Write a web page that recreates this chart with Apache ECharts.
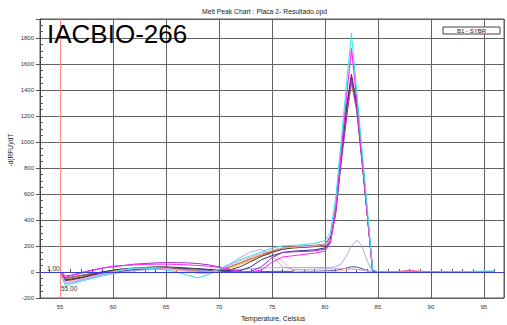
<!DOCTYPE html>
<html>
<head>
<meta charset="utf-8">
<script src="https://cdn.jsdelivr.net/npm/echarts@6.0.0/dist/echarts.min.js"></script>
<style>
html, body { margin: 0; padding: 0; background: #fff; }
#chart { width: 507px; height: 325px; }
</style>
</head>
<body>
<div id="chart"></div>
<script>
// temperatures (Celsius) of the sampled points
const temps = [55, 55.5, 56, 57, 58, 59, 60, 61, 62, 63,
  64, 65, 66, 67, 68, 69, 70, 71, 72, 73,
  74, 75, 76, 77, 78, 79, 80,
  80.5, 81, 81.5, 82, 82.5, 83, 83.5, 84, 84.5, 85,
  86, 88, 90, 92, 94, 96];

// -d(RFU)/dT per well
const wellSlate = [0, -45, -40, -25, -10, 0, 8, 15, 20, 22,
  25, 25, 22, 20, 15, 10, 5, 3, 0, 0,
  2, 5, 5, 5, 5, 5, 8,
  10, 12, 20, 30, 40, 38, 25, 10, 0, 0,
  0, 0, 0, 0, 0, 0];
const wellLightOrange = [0, -60, -55, -40, -25, -10, 0, 10, 15, 20,
  22, 20, 15, 10, 5, 5, 10, 35, 70, 110,
  140, 150, 80, 5, 0, 0, 0,
  2, 5, 8, 12, 18, 20, 15, 5, 0, 0,
  0, 0, 0, 0, 0, 0];
const wellLilac = [0, -85, -80, -60, -40, -20, -5, 5, 15, 20,
  25, 25, 20, 10, 0, 0, 20, 60, 110, 155,
  175, 120, 40, 20, 20, 22, 25,
  25, 25, 25, 25, 25, 20, 15, 10, 0, 0,
  0, 0, 0, 0, 0, 0];
const wellLavender = [0, -90, -85, -65, -45, -30, -15, 0, 10, 15,
  20, 22, 20, 18, 15, 12, 10, 15, 20, 25,
  30, 32, 33, 34, 35, 35, 35,
  36, 40, 60, 120, 200, 245, 200, 80, 5, 0,
  0, 0, 0, 2, 3, 4];
const wellBrown = [5, -50, -45, -30, -15, 0, 10, 20, 25, 28,
  30, 30, 25, 15, 5, 0, 15, 40, 70, 100,
  130, 160, 185, 195, 200, 205, 215,
  270, 480, 860, 1200, 1450, 1240, 840, 430, 10, 0,
  0, 0, 0, 0, 0, 0];
const wellOrange = [0, -70, -65, -50, -30, -10, 5, 15, 25, 30,
  30, 25, 15, 5, -10, -15, 5, 30, 60, 90,
  120, 150, 175, 185, 190, 195, 205,
  260, 470, 850, 1200, 1470, 1260, 860, 440, 10, 0,
  0, 12, 0, 0, 0, 0];
const wellNavy = [0, -65, -60, -45, -25, -10, 0, 10, 20, 25,
  28, 30, 30, 28, 25, 20, 15, 10, 10, 40,
  95, 125, 150, 160, 165, 170, 185,
  240, 450, 840, 1230, 1500, 1280, 870, 440, 10, 0,
  0, 0, 0, 0, 0, 0];
const wellGray = [0, -60, -55, -40, -20, 0, 15, 25, 30, 35,
  40, 40, 35, 30, 25, 15, 10, 15, 40, 80,
  120, 150, 175, 185, 190, 195, 210,
  270, 500, 900, 1250, 1520, 1300, 880, 450, 10, 0,
  0, 0, 0, 0, 0, 0];
const wellViolet = [5, -30, -25, -5, 15, 30, 40, 50, 60, 65,
  70, 72, 72, 70, 65, 55, 40, 20, 0, 5,
  40, 110, 150, 155, 158, 162, 175,
  230, 440, 820, 1150, 1480, 1250, 850, 430, 10, 0,
  0, 0, 0, 0, 0, 0];
const wellPink = [0, -80, -75, -55, -35, -15, 0, 15, 25, 30,
  30, 28, 20, 10, 0, 0, 20, 50, 85, 115,
  145, 170, 185, 190, 195, 200, 215,
  280, 520, 950, 1350, 1700, 1350, 900, 460, 15, 0,
  0, 0, 0, 0, 0, 0];
const wellMagenta = [0, -40, -30, -10, 10, 30, 45, 50, 55, 58,
  60, 60, 58, 55, 50, 45, 35, 20, 5, 0,
  15, 75, 115, 125, 135, 145, 160,
  220, 460, 880, 1310, 1720, 1330, 880, 450, 15, 0,
  0, 8, 0, 0, 0, 0];
const wellCyan = [-20, -105, -95, -70, -50, -25, 0, 20, 30, 30,
  25, 15, 0, -25, -45, -20, 20, 60, 95, 125,
  155, 185, 200, 205, 210, 220, 240,
  300, 560, 980, 1420, 1836, 1390, 940, 490, 20, 0,
  2, 0, 0, 2, 5, 8];

const wells = [wellSlate, wellLightOrange, wellLilac, wellLavender, wellBrown, wellOrange,
  wellNavy, wellGray, wellViolet, wellPink, wellMagenta, wellCyan];
const wellColors = ['#555577', '#ffc27a', '#b9a6f2', '#a8a8ee', '#b0662a', '#ffa24a',
  '#2b2b8c', '#3c3c3c', '#9a32cd', '#ff99ee', '#ff22ff', '#33e6e6'];

const xTicks = [55, 60, 65, 70, 75, 80, 85, 90, 95];
const yTicks = [-200, 0, 200, 400, 600, 800, 1000, 1200, 1400, 1600, 1800];
const meltStart = 55;
const threshold = 1;

const FONT = '"Liberation Sans", Arial, sans-serif';
const chart = echarts.init(document.getElementById('chart'), null, { renderer: 'svg' });

const series = wells.map((vals, k) => ({
  type: 'line',
  data: temps.map((t, i) => [t, vals[i]]),
  showSymbol: false,
  lineStyle: { width: 1, color: wellColors[k] },
  itemStyle: { color: wellColors[k] },
  z: 3,
  silent: true
}));
series.push({
  type: 'line',
  data: [],
  z: 4,
  silent: true,
  markLine: {
    silent: true,
    symbol: ['none', 'none'],
    label: { show: false },
    animation: false,
    data: [
      { xAxis: meltStart, lineStyle: { color: '#ff8a80', width: 1, type: 'solid' } },
      { yAxis: threshold, lineStyle: { color: '#3a3ad8', width: 1, type: 'solid' } }
    ]
  }
});

const xFmt = v => xTicks.indexOf(Math.round(v * 1000) / 1000) >= 0 ? String(v) : '';
const yFmt = v => yTicks.indexOf(Math.round(v)) >= 0 && Math.abs(v - Math.round(v)) < 1e-6 ? String(Math.round(v)) : '';

const option = {
  animation: false,
  grid: { left: 40, right: 0, top: 19, bottom: 27, show: true, borderColor: '#555', borderWidth: 1, backgroundColor: '#fff' },
  xAxis: [{
    type: 'value', min: 53.1, max: 96.9, splitNumber: 9,
    axisLine: { show: true, lineStyle: { color: '#444' } },
    axisTick: { show: true, length: 4, lineStyle: { color: '#555' } },
    axisLabel: { fontSize: 6, color: '#333', fontFamily: FONT, margin: 6, formatter: xFmt },
    splitLine: { show: true, lineStyle: { color: '#626262', width: 1 } }
  }, {
    type: 'value', min: 53.1, max: 96.9, splitNumber: 9, position: 'bottom',
    axisLine: { show: false },
    axisTick: { show: false, inside: true, length: 3 },
    minorTick: { show: true, splitNumber: 5, length: 3, lineStyle: { color: '#555' } },
    axisLabel: { show: false },
    splitLine: { show: false }
  }],
  yAxis: [{
    type: 'value', min: -200, max: 1945, interval: 200,
    axisLine: { show: true, lineStyle: { color: '#444' } },
    axisTick: { show: true, length: 4, lineStyle: { color: '#555' } },
    axisLabel: { fontSize: 6, color: '#333', fontFamily: FONT, margin: 6, formatter: yFmt },
    splitLine: { show: true, lineStyle: { color: '#626262', width: 1 } }
  }, {
    type: 'value', min: -200, max: 1945, interval: 200, position: 'left',
    axisLine: { show: false },
    axisTick: { show: false, inside: true, length: 3 },
    minorTick: { show: true, splitNumber: 4, length: 3, lineStyle: { color: '#555' } },
    axisLabel: { show: false },
    splitLine: { show: false }
  }],
  series: series,
  graphic: [
    { type: 'text', left: 202, top: 8, style: { text: 'Melt Peak Chart : Placa 2- Resultado.opd', fontSize: 6.8, fill: '#222', fontFamily: FONT } },
    { type: 'text', left: 47, top: 21, z: 10, style: { text: 'IACBIO-266', fontSize: 26, fill: '#000', fontFamily: FONT } },
    { type: 'rect', shape: { x: 443, y: 27, width: 57, height: 7 }, z: 10, style: { fill: '#fff', stroke: '#444', lineWidth: 1 } },
    { type: 'text', x: 471.5, y: 30.5, z: 11, style: { text: 'B1 - SYBR', fontSize: 6, fill: '#222', fontFamily: FONT, align: 'center', verticalAlign: 'middle' } },
    { type: 'text', x: 47, y: 268, z: 10, style: { text: '1,00', fontSize: 6.5, fill: '#333', fontFamily: FONT, verticalAlign: 'middle' } },
    { type: 'text', x: 61, y: 288, z: 10, style: { text: '55,00', fontSize: 6.5, fill: '#333', fontFamily: FONT, verticalAlign: 'middle' } },
    { type: 'text', x: 273, y: 318, style: { text: 'Temperature, Celsius', fontSize: 6.8, fill: '#222', fontFamily: FONT, align: 'center', verticalAlign: 'middle' } },
    { type: 'text', x: 10, y: 150, rotation: Math.PI / 2, style: { text: '-d(RFU)/dT', fontSize: 6.5, fill: '#222', fontFamily: FONT, align: 'center', verticalAlign: 'middle' } }
  ]
};
chart.setOption(option);
</script>
</body>
</html>
